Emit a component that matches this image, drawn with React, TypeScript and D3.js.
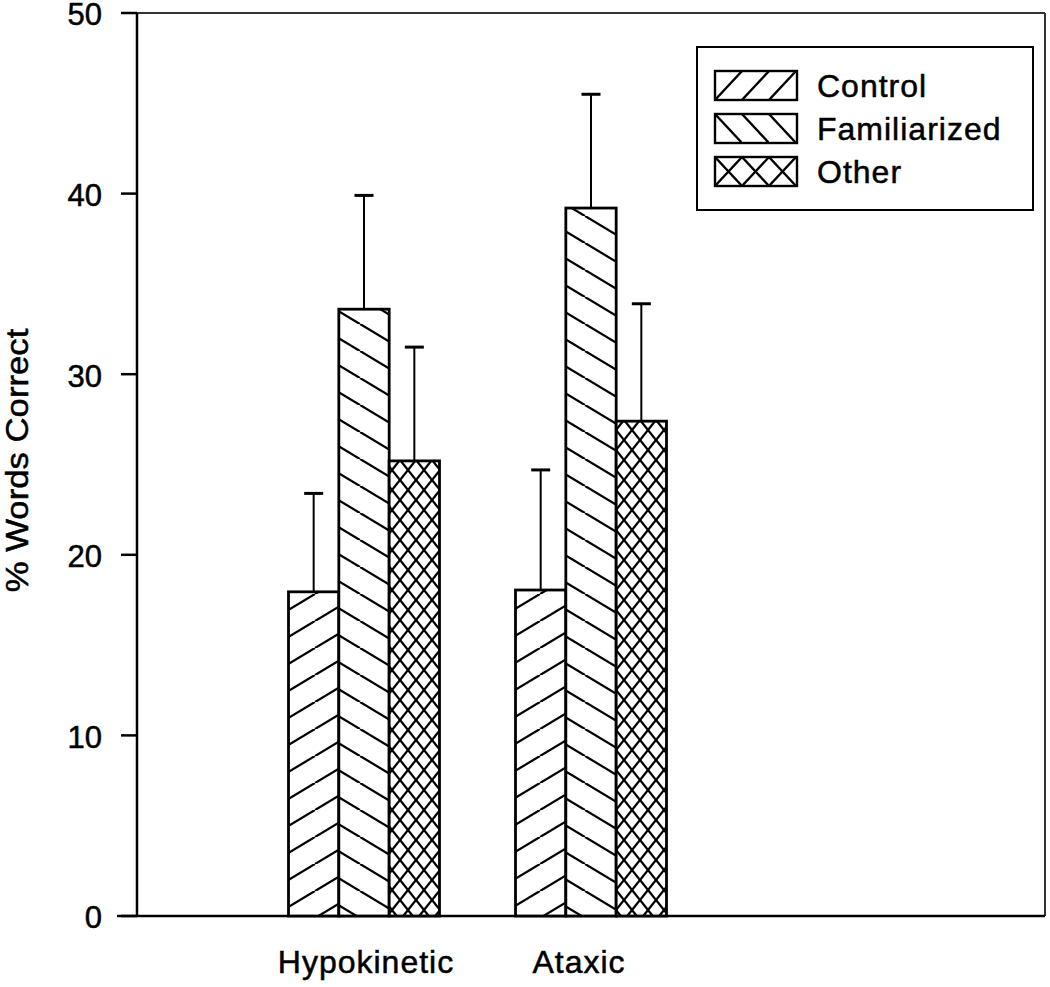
import React from "react";
import { scaleLinear, scaleBand } from "d3";

const categories = ["Hypokinetic", "Ataxic"];
const series = ["Control", "Familiarized", "Other"];
// mean % words correct per category, one value per series
const meanValues = [
  [17.95, 33.6, 25.2],
  [18.05, 39.2, 27.4],
];
// upper error bar size (SD)
const errorValues = [
  [5.45, 6.3, 6.3],
  [6.65, 6.3, 6.5],
];
const yTicks = [0, 10, 20, 30, 40, 50];

const W = 1050;
const H = 987;
const left = 137;
const right = 1045;
const top = 13;
const bottom = 916;
const FONT = "'Liberation Sans', Arial, Helvetica, sans-serif";

const patternIds = ["hatchFwd", "hatchBack", "hatchCross"];

// hatch patterns: w/h = tile size for single hatch, cw/ch = tile for crosshatch
const Patterns = ({ suffix, w, h, cw, ch }: { suffix: string; w: number; h: number; cw: number; ch: number }) => {
  const sw = 2.3;
  return (
    <>
      <pattern id={patternIds[0] + suffix} patternUnits="userSpaceOnUse" width={w} height={h}>
        <rect width={w} height={h} fill="#fff" />
        <line x1={0} y1={h} x2={w} y2={0} stroke="#000" strokeWidth={sw} />
        <line x1={-w} y1={h} x2={0} y2={0} stroke="#000" strokeWidth={sw} />
        <line x1={w} y1={h} x2={2 * w} y2={0} stroke="#000" strokeWidth={sw} />
      </pattern>
      <pattern id={patternIds[1] + suffix} patternUnits="userSpaceOnUse" width={w} height={h}>
        <rect width={w} height={h} fill="#fff" />
        <line x1={0} y1={0} x2={w} y2={h} stroke="#000" strokeWidth={sw} />
        <line x1={-w} y1={0} x2={0} y2={h} stroke="#000" strokeWidth={sw} />
        <line x1={w} y1={0} x2={2 * w} y2={h} stroke="#000" strokeWidth={sw} />
      </pattern>
      <pattern id={patternIds[2] + suffix} patternUnits="userSpaceOnUse" width={cw} height={ch}>
        <rect width={cw} height={ch} fill="#fff" />
        <line x1={0} y1={0} x2={cw} y2={ch} stroke="#000" strokeWidth={sw} />
        <line x1={0} y1={ch} x2={cw} y2={0} stroke="#000" strokeWidth={sw} />
      </pattern>
    </>
  );
};

const App = () => {
  const x = scaleLinear().domain([0, 4]).range([left, right]);
  const y = scaleLinear().domain([0, 50]).range([bottom, top]);
  const groupWidth = 151;
  const sub = scaleBand<string>().domain(series).range([-groupWidth / 2, groupWidth / 2]);
  const capHalf = 9.5;
  const textStroke = { stroke: "#000", strokeWidth: 0.5 };

  return (
    <svg
      width={W}
      height={H}
      style={{ position: "absolute", left: 0, top: 0, background: "#fff" }}
      fontFamily={FONT}
    >
      <defs>
        <Patterns suffix="" w={45} h={27} cw={16} ch={20} />
        <Patterns suffix="L" w={27} h={29} cw={27} ch={29} />
      </defs>

      {/* frame */}
      <line x1={left} y1={top} x2={right} y2={top} stroke="#333" strokeWidth={2} />
      <line x1={right} y1={top} x2={right} y2={bottom} stroke="#333" strokeWidth={2} />
      <line x1={left} y1={top} x2={left} y2={bottom} stroke="#000" strokeWidth={2.5} />
      <line x1={left - 20} y1={bottom} x2={right} y2={bottom} stroke="#000" strokeWidth={2.5} />

      {/* y axis ticks */}
      {yTicks.map((t) => (
        <g key={t} transform={`translate(0,${y(t)})`}>
          <line x1={left - 16} x2={left} stroke="#000" strokeWidth={2.5} />
          <text x={102} dy="0.4em" textAnchor="end" fontSize={31} fill="#000" {...textStroke}>
            {t}
          </text>
        </g>
      ))}

      <text
        transform={`translate(28,${(top + bottom) / 2 - 4}) rotate(-90) scale(1.12,1)`}
        textAnchor="middle"
        fontSize={31}
        fill="#000"
        {...textStroke}
      >
        % Words Correct
      </text>

      {/* bars */}
      {categories.map((c, ci) => {
        const cx = x(ci + 1);
        return (
          <g key={c}>
            {series.map((s, si) => {
              const v = meanValues[ci][si];
              const e = errorValues[ci][si];
              const bx = cx + (sub(s) as number);
              const bw = sub.bandwidth();
              const mid = bx + bw / 2;
              return (
                <g key={s}>
                  <line x1={mid} x2={mid} y1={y(v)} y2={y(v + e)} stroke="#000" strokeWidth={2} />
                  <line x1={mid - capHalf} x2={mid + capHalf} y1={y(v + e)} y2={y(v + e)} stroke="#000" strokeWidth={3} />
                  <rect
                    x={bx}
                    y={y(v)}
                    width={bw}
                    height={bottom - y(v)}
                    fill={`url(#${patternIds[si]})`}
                    stroke="#000"
                    strokeWidth={2.8}
                  />
                </g>
              );
            })}
            <text
              x={cx + (ci === 0 ? 2 : -12)}
              y={973}
              textAnchor="middle"
              fontSize={32}
              letterSpacing={1}
              fill="#000"
              {...textStroke}
            >
              {c}
            </text>
          </g>
        );
      })}

      {/* legend */}
      <g transform="translate(697,47)">
        <rect width={336} height={163} fill="#fff" stroke="#000" strokeWidth={2} />
        {series.map((s, si) => (
          <g key={s} transform={`translate(18,${24 + si * 43})`}>
            <rect width={82} height={29} fill={`url(#${patternIds[si]}L)`} stroke="#000" strokeWidth={2.4} />
            <text x={102} y={26} fontSize={32} letterSpacing={1} fill="#000" {...textStroke}>
              {s}
            </text>
          </g>
        ))}
      </g>
    </svg>
  );
};

export default App;
